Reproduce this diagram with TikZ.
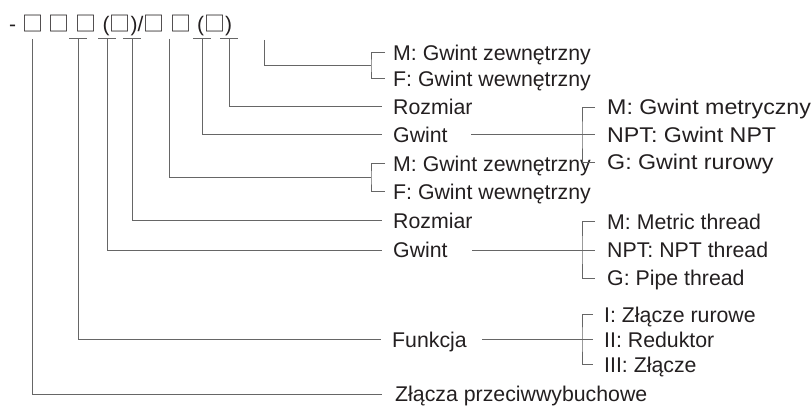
\documentclass[tikz,border=0pt]{standalone}
\usepackage{fontspec}
\setmainfont{Liberation Sans}
\newfontfamily\cjk{Noto Sans CJK SC}
\newfontfamily\widesans[FakeStretch=1.09]{Liberation Sans}
\definecolor{txt}{HTML}{231F20}
\definecolor{ln}{HTML}{666666}
\newcommand{\bx}{{\cjk □}}
\begin{document}
\begin{tikzpicture}[x=1pt,y=-1pt,
  lbl/.style={anchor=west,inner sep=0pt,text height=15pt,text depth=0pt,font=\fontsize{21.3}{25}\selectfont,text=txt},
  widelbl/.style={lbl,font=\widesans\fontsize{21.3}{25}\selectfont},
  conn/.style={draw=ln,line width=1pt},
]
\useasboundingbox (0,0) rectangle (811,406);
% title
\node[lbl,font=\fontsize{21}{25}\selectfont] (title) at (9,24) {- \bx\ \bx\ \bx\ (\bx)/\bx\ \bx\ (\bx)};
% middle column labels
\node[lbl] (tz1) at (393,53) {M: Gwint zewnętrzny};
\node[lbl] (tw1) at (393,79) {F: Gwint wewnętrzny};
\node[lbl] (rz1) at (393,107) {Rozmiar};
\node[lbl] (gw1) at (393,135) {Gwint};
\node[lbl] (tz2) at (393,164) {M: Gwint zewnętrzny};
\node[lbl] (tw2) at (393,192) {F: Gwint wewnętrzny};
\node[lbl] (rz2) at (393,221) {Rozmiar};
\node[lbl] (gw2) at (393,250) {Gwint};
\node[lbl] (fn) at (392,339.5) {Funkcja};
\node[lbl] (zp) at (395,394) {Złącza przeciwwybuchowe};
% right column labels
\node[widelbl] (gm) at (607,107.5) {M: Gwint metryczny};
\node[widelbl] (gn) at (607,135) {NPT: Gwint NPT};
\node[widelbl] (gr) at (607,162.5) {G: Gwint rurowy};
\node[lbl] (em) at (607,222) {M: Metric thread};
\node[lbl] (en) at (607,250) {NPT: NPT thread};
\node[lbl] (eg) at (607,278) {G: Pipe thread};
\node[lbl] (f1) at (604,314.5) {I: Złącze rurowe};
\node[lbl] (f2) at (604,339.5) {II: Reduktor};
\node[lbl] (f3) at (604,364.5) {III: Złącze};
% tops of the vertical lines under the code
\coordinate (c1) at (32,39);
\coordinate (c2) at (78,39);
\coordinate (c3) at (107,39);
\coordinate (c4) at (132,39);
\coordinate (c5) at (169,39);
\coordinate (c6) at (202,39);
\coordinate (c7) at (229,39);
\coordinate (c8) at (264,40);
% caps
\foreach \c in {c2,c3,c4,c6,c7}
  \draw[conn] ([xshift=-9pt]\c) -- ([xshift=9pt]\c);
% brackets for M/F
\coordinate (b1) at (371,66);
\coordinate (b2) at (371,178);
\draw[conn] (c8) |- (b1);
\draw[conn] ([xshift=-8pt]tz1.west) -| (b1) |- ([xshift=-8pt]tw1.west);
\draw[conn] (c5) |- (b2);
\draw[conn] ([xshift=-8pt]tz2.west) -| (b2) |- ([xshift=-8pt]tw2.west);
% plain leaders
\draw[conn] (c7) |- ([xshift=-11pt]rz1.west);
\draw[conn] (c6) |- ([xshift=-11pt]gw1.west);
\draw[conn] (c4) |- ([xshift=-11pt]rz2.west);
\draw[conn] (c3) |- ([xshift=-11pt]gw2.west);
\draw[conn] (c2) |- ([xshift=-11pt]fn.west);
\draw[conn] (c1) |- ([xshift=-13pt]zp.west);
% thread bracket 1
\coordinate (s1) at (471,135);
\coordinate (k1) at (582,135);
\draw[conn] (s1) -- ([xshift=-12pt]gn.west);
\draw[conn] ([xshift=-12pt]gm.west) -| (k1) |- ([xshift=-12pt]gr.west);
% thread bracket 2
\coordinate (s2) at (472,250);
\coordinate (k2) at (582,250);
\draw[conn] (s2) -- ([xshift=-12pt]en.west);
\draw[conn] ([xshift=-12pt]em.west) -| (k2) |- ([xshift=-12pt]eg.west);
% function bracket
\coordinate (s3) at (482,339.5);
\coordinate (k3) at (582,339.5);
\draw[conn] (s3) -- ([xshift=-11pt]f2.west);
\draw[conn] ([xshift=-11pt]f1.west) -| (k3) |- ([xshift=-11pt]f3.west);
\end{tikzpicture}
\end{document}
